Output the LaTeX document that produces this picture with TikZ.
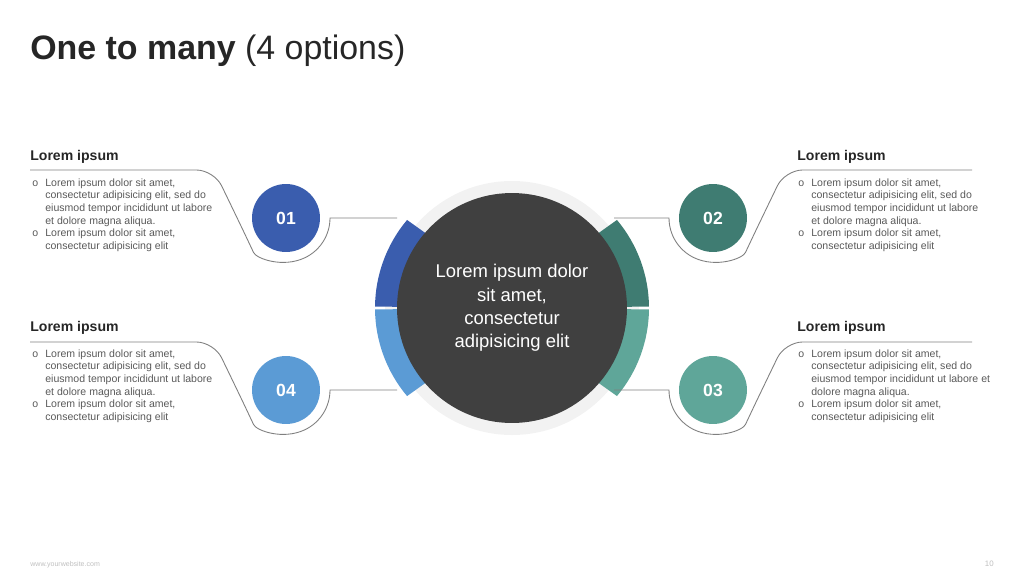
\documentclass[tikz,border=0pt]{standalone}
\usepackage{fontspec}
\setmainfont{Liberation Sans}
\usetikzlibrary{positioning, calc}

\definecolor{hubgray}{HTML}{404040}
\definecolor{ringgray}{HTML}{F2F2F2}
\definecolor{optA}{HTML}{3A5DAE}
\definecolor{optB}{HTML}{3F7C72}
\definecolor{optC}{HTML}{5FA699}
\definecolor{optD}{HTML}{5B9BD5}
\definecolor{linegray}{HTML}{7F7F7F}
\definecolor{bodygray}{HTML}{595959}

\newcommand{\ipsumlist}[2]{%
    \begin{tabular}{@{}p{0.26cm}@{}l@{}}
        o & Lorem ipsum dolor sit amet,\\
          & consectetur adipisicing elit, sed do\\
          & #1\\
          & #2\\
        o & Lorem ipsum dolor sit amet,\\
          & consectetur adipisicing elit
    \end{tabular}}

\begin{document}
\begin{tikzpicture}[
            x = 0.02cm, y = 0.02cm, % one unit = one pixel of the slide
            link/.style = {draw = linegray, line width = 0.5pt},
            number/.style = {circle, minimum size = 1.36cm, inner sep = 0pt,
                text = white, font = \bfseries\fontsize{10}{12}\selectfont},
            heading/.style = {inner sep = 0pt, text = black!85,
                font = \bfseries\fontsize{8}{10}\selectfont},
            bullets/.style = {inner sep = 0pt, text = bodygray,
                font = \fontsize{6}{7.2}\selectfont}
        ]

        \useasboundingbox (0,0) rectangle (1024,576);

        % title and footer
        \node[inner sep = 0pt, anchor = base west, text = black!85,
            font = \fontsize{19.3}{24}\selectfont] (title) at (30,517)
            {\textbf{One to many} (4 options)};
        \node[inner sep = 0pt, anchor = base west, text = black!25,
            font = \fontsize{4}{5}\selectfont] (web) at (30,10) {www.yourwebsite.com};
        \node[inner sep = 0pt, anchor = base east, text = black!25,
            font = \fontsize{4.5}{5}\selectfont] (page) at (994,10) {10};

        % hub
        \coordinate (C) at (512,268);
        \fill[ringgray] (C) circle[radius = 127];
        \fill[optA] ($(C)+(140:137)$) arc[start angle = 140, end angle = 179.4, radius = 137]
            -- ($(C)+(179.4:112)$) arc[start angle = 179.4, end angle = 139, radius = 112] -- cycle;
        \fill[optD] ($(C)+(180.6:137)$) arc[start angle = 180.6, end angle = 220, radius = 137]
            -- ($(C)+(221:112)$) arc[start angle = 221, end angle = 180.6, radius = 112] -- cycle;
        \fill[optB] ($(C)+(40:137)$) arc[start angle = 40, end angle = 0.6, radius = 137]
            -- ($(C)+(0.6:112)$) arc[start angle = 0.6, end angle = 41, radius = 112] -- cycle;
        \fill[optC] ($(C)+(-40:137)$) arc[start angle = -40, end angle = -0.6, radius = 137]
            -- ($(C)+(-0.6:112)$) arc[start angle = -0.6, end angle = -41, radius = 112] -- cycle;
        \node[circle, fill = hubgray, minimum size = 4.6cm, inner sep = 0pt,
            text = white, align = center, font = \fontsize{10.5}{13.2}\selectfont] (hub) at (C)
            {Lorem ipsum dolor\\sit amet,\\consectetur\\adipisicing elit};

        % numbered options
        \node[number, fill = optA] (n01) at (286,358) {01};
        \node[number, fill = optB] (n02) at (713,358) {02};
        \node[number, fill = optC] (n03) at (713,186) {03};
        \node[number, fill = optD] (n04) at (286,186) {04};

        % headings and texts
        \node[heading, anchor = base west] (h01) at (30,416) {Lorem ipsum};
        \node[heading, anchor = base west] (h04) at (30,245) {Lorem ipsum};
        \node[heading, anchor = base west] (h02) at (797,416) {Lorem ipsum};
        \node[heading, anchor = base west] (h03) at (797,245) {Lorem ipsum};

        \node[bullets, anchor = north west] (t01) at (32,399)
            {\ipsumlist{eiusmod tempor incididunt ut labore}{et dolore magna aliqua.}};
        \node[bullets, anchor = north west] (t04) at (32,228)
            {\ipsumlist{eiusmod tempor incididunt ut labore}{et dolore magna aliqua.}};
        \node[bullets, anchor = north west] (t02) at (798,399)
            {\ipsumlist{eiusmod tempor incididunt ut labore}{et dolore magna aliqua.}};
        \node[bullets, anchor = north west] (t03) at (798,228)
            {\ipsumlist{eiusmod tempor incididunt ut labore et}{dolore magna aliqua.}};

        % connector ends
        \coordinate (s01) at (397,358);
        \coordinate (s04) at (397,186);
        \coordinate (s02) at (614,358);
        \coordinate (s03) at (614,186);

        % left paths
        \draw[link, rounded corners = 10pt] (30,406) -- (214,406) -- ($(n01)+(205:44)$)
            [sharp corners] arc[start angle = 205, end angle = 360, radius = 44] -- (s01);
        \draw[link, rounded corners = 10pt] (30,234) -- (214,234) -- ($(n04)+(205:44)$)
            [sharp corners] arc[start angle = 205, end angle = 360, radius = 44] -- (s04);

        % right paths
        \draw[link, rounded corners = 10pt] (972,406) -- (785,406) -- ($(n02)+(-25:44)$)
            [sharp corners] arc[start angle = -25, end angle = -180, radius = 44] -- (s02);
        \draw[link, rounded corners = 10pt] (972,234) -- (785,234) -- ($(n03)+(-25:44)$)
            [sharp corners] arc[start angle = -25, end angle = -180, radius = 44] -- (s03);

    \end{tikzpicture}
\end{document}
